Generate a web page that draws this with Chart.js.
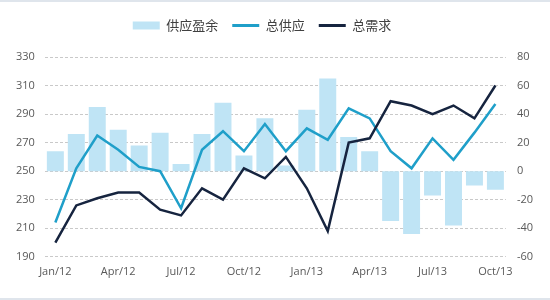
<!DOCTYPE html>
<html><head><meta charset="utf-8">
<script src="https://cdn.jsdelivr.net/npm/chart.js@4/dist/chart.umd.min.js"></script>
<style>html,body{margin:0;padding:0;background:#fff}#wrap{width:550px;height:300px;position:relative}</style>
</head><body><div id="wrap"><canvas id="c" width="550" height="300"></canvas></div>
<script>
const categories = ["Jan/12","Feb/12","Mar/12","Apr/12","May/12","Jun/12","Jul/12","Aug/12","Sep/12","Oct/12","Nov/12","Dec/12",
  "Jan/13","Feb/13","Mar/13","Apr/13","May/13","Jun/13","Jul/13","Aug/13","Sep/13","Oct/13"];
const surplus = [14, 26, 45, 29, 18, 27, 5, 26, 48, 11, 37, 4, 43, 65, 24, 14, -35, -44, -17, -38, -10, -13];
const supply  = [214, 252, 275, 265, 253, 250, 224, 265, 278, 264, 283, 264, 280, 272, 294, 287, 264, 252, 273, 258, 277, 297];
const demand  = [200, 226, 231, 235, 235, 223, 219, 238, 230, 252, 245, 260, 238, 208, 270, 273, 299, 296, 290, 296, 287, 310];
const leftTicks = {min:190, max:330, step:20};
const rightTicks = {min:-60, max:80, step:20};
const seriesNames = ["供应盈余","总供应","总需求"];

const bgPlugin = {
  id:'bg',
  beforeInit(chart){
    if (chart.legend) {
      const orig = chart.legend.fit;
      chart.legend.fit = function(){ orig.call(this); this.height += 15; };
    }
  },
  afterLayout(chart){
    if (chart.legend) { chart.legend.left -= 13; chart.legend.right -= 13; }
  },
  beforeDraw(chart){
    const ctx = chart.ctx;
    ctx.save();
    ctx.fillStyle = '#ffffff';
    ctx.fillRect(0,0,chart.width,chart.height);
    ctx.fillStyle = '#dfe5ec';
    ctx.fillRect(0,0,chart.width,2);
    ctx.fillRect(0,chart.height-2,chart.width,2);
    ctx.restore();
  }
};

const tickFont = {family:"'Open Sans', 'Noto Sans', sans-serif", size:11};
new Chart(document.getElementById('c'), {
  data: {
    labels: categories,
    datasets: [
      {type:'bar', label:seriesNames[0], data:surplus, yAxisID:'y1', backgroundColor:'#bfe4f5', borderWidth:0, order:3,
        barPercentage:0.9, categoryPercentage:0.9},
      {type:'line', label:seriesNames[1], data:supply, yAxisID:'y', borderColor:'#1f9fc9', borderWidth:2.5, pointRadius:0, tension:0, order:2, fill:false},
      {type:'line', label:seriesNames[2], data:demand, yAxisID:'y', borderColor:'#16243f', borderWidth:2.5, pointRadius:0, tension:0, order:1, fill:false}
    ]
  },
  options: {
    responsive:false, animation:false,
    layout:{padding:{left:6, right:6, top:5, bottom:14}},
    plugins:{
      tooltip:{enabled:false},
      legend:{
        position:'top', align:'center',
        labels:{
          usePointStyle:true, pointStyleWidth:27, boxHeight:8,
          color:'#404040', padding:14,
          font:{family:"'Noto Sans CJK SC', sans-serif", size:13},
          generateLabels(chart){
            return [
              {text:seriesNames[0], fillStyle:'#bfe4f5', strokeStyle:'#bfe4f5', lineWidth:0, pointStyle:'rect', datasetIndex:0, fontColor:'#404040'},
              {text:seriesNames[1], fillStyle:'#1f9fc9', strokeStyle:'#1f9fc9', lineWidth:3, pointStyle:'line', datasetIndex:1, fontColor:'#404040'},
              {text:seriesNames[2], fillStyle:'#16243f', strokeStyle:'#16243f', lineWidth:3, pointStyle:'line', datasetIndex:2, fontColor:'#404040'}
            ];
          }
        }
      }
    },
    scales:{
      x:{
        offset:true,
        grid:{display:false, drawTicks:false},
        border:{display:false},
        ticks:{autoSkip:false, maxRotation:0, padding:8, color:'#595959', font:tickFont,
          callback(v,i){ return i%3===0 ? categories[i] : ''; }}
      },
      y:{
        position:'left', min:leftTicks.min, max:leftTicks.max,
        ticks:{stepSize:leftTicks.step, padding:10, color:'#595959', font:tickFont},
        grid:{color:'#c9c9c9', drawTicks:false, lineWidth:1},
        border:{display:false, dash:[3,2]}
      },
      y1:{
        position:'right', min:rightTicks.min, max:rightTicks.max,
        ticks:{stepSize:rightTicks.step, padding:11, color:'#595959', font:tickFont},
        grid:{display:false, drawTicks:false},
        border:{display:false}
      }
    }
  },
  plugins:[bgPlugin]
});
</script></body></html>
